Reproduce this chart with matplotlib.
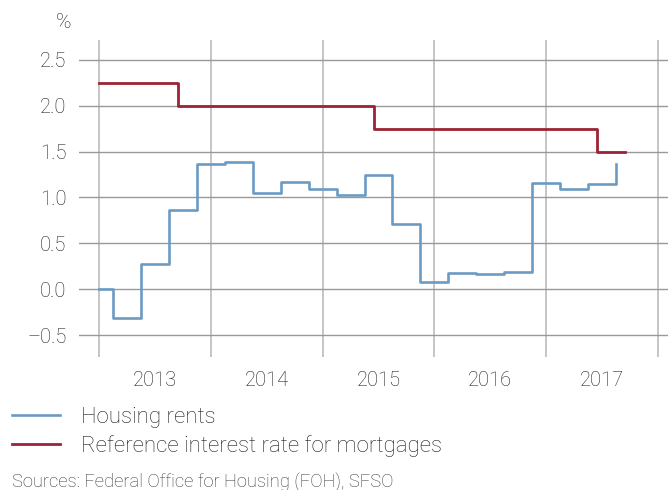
import matplotlib.pyplot as plt
import numpy as np

plt.rcParams['font.family'] = ['Roboto', 'DejaVu Sans']
plt.rcParams['font.weight'] = 'light'

# housing rents, yoy change in %, step changes (decimal year)
rent_x = [2013.0, 2013.125, 2013.375, 2013.625, 2013.875, 2014.125, 2014.375,
          2014.625, 2014.875, 2015.125, 2015.375, 2015.625, 2015.875, 2016.125,
          2016.375, 2016.625, 2016.875, 2017.125, 2017.375, 2017.625]
rent_y = [0.0, -0.31, 0.27, 0.86, 1.37, 1.385, 1.05, 1.17, 1.09, 1.025,
          1.24, 0.716, 0.076, 0.18, 0.167, 0.19, 1.16, 1.09, 1.147, 1.37]

# reference interest rate for mortgages
ref_x = [2013.0, 2013.708, 2015.458, 2017.458, 2017.708]
ref_y = [2.25, 2.0, 1.75, 1.5, 1.5]

years = [2013, 2014, 2015, 2016, 2017]
yticks = [-0.5, 0.0, 0.5, 1.0, 1.5, 2.0, 2.5]

txt = '#1e1e1e'
fig = plt.figure(figsize=(6.68, 4.90), dpi=100)
ax = fig.add_axes([79/668, 133/490, 1 - 79/668, 317/490])

l1, = ax.plot(rent_x, rent_y, drawstyle='steps-post', color='#6b9bc3', lw=1.9,
              label='Housing rents', zorder=3)
l2, = ax.plot(ref_x, ref_y, drawstyle='steps-post', color='#9b2335', lw=2.0,
              label='Reference interest rate for mortgages', zorder=3)

ax.set_xlim(2012.821, 2018.09)
ax.set_ylim(-0.739, 2.717)

ax.set_xticks(years + [2018])
ax.set_xticklabels([])
ax.set_xticks([y + 0.5 for y in years], minor=True)
ax.set_xticklabels([str(y) for y in years], minor=True)
ax.tick_params(axis='x', which='both', length=0, pad=10, labelsize=14.5,
               labelcolor=txt)
ax.set_yticks(yticks)
ax.set_yticklabels([f'{v:.1f}'.replace('-', '\u2013') for v in yticks])
ax.tick_params(axis='y', length=0, pad=9, labelsize=14.5, labelcolor=txt)

ax.grid(axis='x', which='major', color='#bbbbbb', lw=1.2)
ax.grid(axis='y', color='#999999', lw=1.0)
for s in ax.spines.values():
    s.set_visible(False)

fig.text(71/668, 1 - 23/490, '%', ha='right', va='center', fontsize=15,
         color=txt)

fig.legend(handles=[l1, l2], loc='upper left',
           bbox_to_anchor=(12/668, 1 - 407/490),
           frameon=False, fontsize=16, handlelength=2.15, handletextpad=0.97,
           labelspacing=0.33, borderaxespad=0, borderpad=0, labelcolor=txt)

fig.text(12/668, 1 - 482/490, 'Sources: Federal Office for Housing (FOH), SFSO',
         ha='left', va='center', fontsize=13.2, color='#3a3a3a')

fig.savefig('out.png', dpi=100)
